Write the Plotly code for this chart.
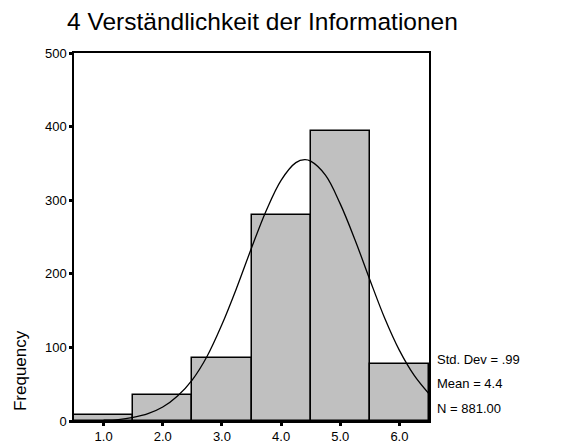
import plotly.graph_objects as go

# Histogram data (bin centres and frequencies)
categories = [1.0, 2.0, 3.0, 4.0, 5.0, 6.0]
frequencies = [8, 35, 86, 280, 394, 78]
tick_labels = ["1.0", "2.0", "3.0", "4.0", "5.0", "6.0"]

# Fitted normal curve
curve_x = [1.0, 1.25, 1.5, 1.75, 2.0, 2.25, 2.5, 2.75, 3.0, 3.25, 3.5, 3.75,
           4.0, 4.25, 4.4, 4.5, 4.75, 5.0, 5.25, 5.5, 5.75, 6.0, 6.25, 6.5]
curve_y = [1, 2, 5, 10, 19, 34, 56, 88, 131, 181, 235, 286,
           327, 351, 355, 353, 334, 295, 246, 192, 140, 96, 62, 37]

stats_text = ["Std. Dev = .99", "Mean = 4.4", "N = 881.00"]
title_text = "4 Verständlichkeit der Informationen"

FONT = "Liberation Sans, Arial, sans-serif"

fig = go.Figure()
fig.add_trace(go.Bar(
    x=categories, y=frequencies, width=1.0,
    marker=dict(color="#c0c0c0", line=dict(color="black", width=1.5)),
    showlegend=False, hoverinfo="x+y",
))
fig.add_trace(go.Scatter(
    x=curve_x, y=curve_y, mode="lines", line=dict(color="black", width=1.3, shape="spline"),
    showlegend=False, hoverinfo="skip",
))

annotations = [
    dict(text=title_text, x=0.532, y=1.086, xref="paper", yref="paper",
         xanchor="center", yanchor="middle", showarrow=False,
         font=dict(family=FONT, size=24.5, color="black")),
    dict(text="Frequency", x=-0.149, y=0.136, xref="paper", yref="paper",
         xanchor="center", yanchor="middle", textangle=-90, showarrow=False,
         font=dict(family=FONT, size=17, color="black")),
]
stat_y = [0.168, 0.102, 0.034]
for t, yy in zip(stats_text, stat_y):
    annotations.append(dict(text=t, x=1.017, y=yy, xref="paper", yref="paper",
                            xanchor="left", yanchor="middle", showarrow=False,
                            font=dict(family=FONT, size=13, color="black")))

fig.update_layout(
    width=573, height=448,
    margin=dict(l=66, r=152, t=45, b=22),
    paper_bgcolor="white", plot_bgcolor="white",
    bargap=0,
    font=dict(family=FONT, size=13, color="black"),
    annotations=annotations,
)
fig.update_xaxes(
    range=[0.5, 6.5], tickvals=categories, ticktext=tick_labels,
    showgrid=False, zeroline=False, showline=True, linecolor="black", linewidth=1.5,
    mirror=True, ticks="outside", ticklen=3, tickwidth=3, tickcolor="black",
    tickfont=dict(family=FONT, size=13, color="black"),
)
fig.update_yaxes(
    range=[0, 500], tickvals=[0, 100, 200, 300, 400, 500],
    showgrid=False, zeroline=False, showline=True, linecolor="black", linewidth=1.5,
    mirror=True, ticks="outside", ticklen=3, tickwidth=3, tickcolor="black",
    tickfont=dict(family=FONT, size=13, color="black"),
)

fig.write_html("out.html")
